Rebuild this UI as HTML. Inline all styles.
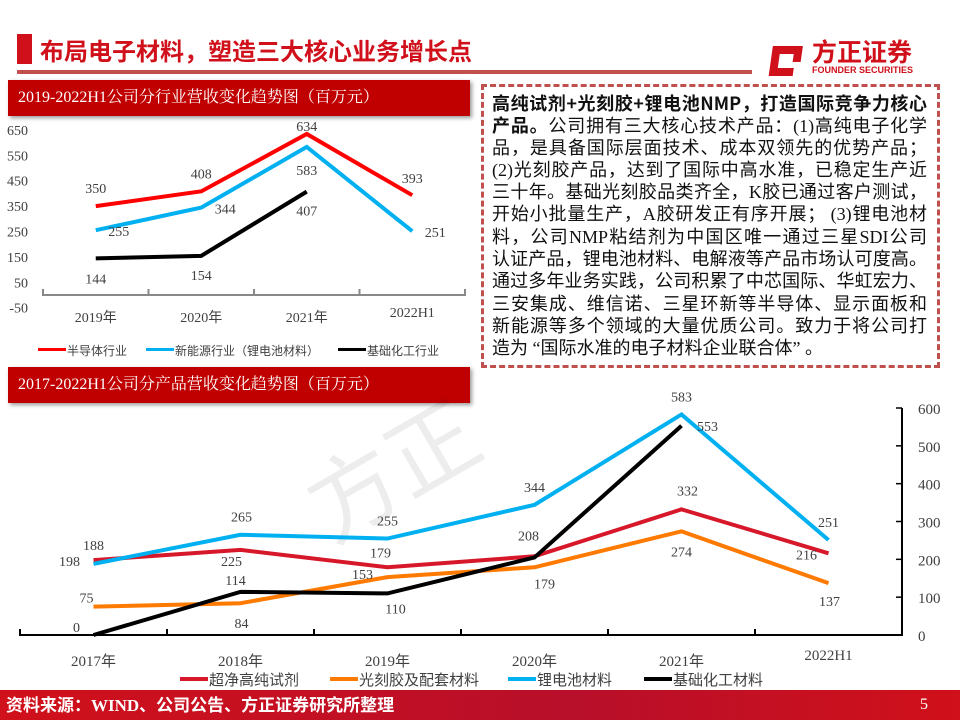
<!DOCTYPE html>
<html><head><meta charset="utf-8">
<style>
body{margin:0;width:960px;height:720px;overflow:hidden;background:#fff;font-family:"Liberation Serif","Noto Serif CJK SC",serif;position:relative}
.abs{position:absolute}
.hdr{position:absolute;left:8px;width:462px;height:36px;background:#c00000;color:#fff;font-size:16px;line-height:36px;padding-left:10px;box-sizing:border-box;box-shadow:2px 2px 4px #999;font-family:"Liberation Serif","Noto Serif CJK SC",serif}
#txt{position:absolute;left:481px;top:84px;width:459px;height:284px;border:3px dashed #c0504d;box-sizing:border-box;padding:5px 10px 0 8px;font-size:18px;line-height:22.3px;color:#111;font-family:"Liberation Serif","Noto Sans CJK SC",sans-serif}
#txt div{text-align:justify;text-align-last:justify;white-space:nowrap;height:22.3px;overflow:visible}
#txt div.last{text-align-last:left}
svg text{font-family:"Liberation Serif","Noto Sans CJK SC",serif}
</style></head><body>
<div class="abs" style="left:17px;top:34px;width:15px;height:30px;background:#d0101a"></div>
<div class="abs" style="left:40px;top:33px;font-size:24px;font-weight:bold;color:#d0101a;font-family:'Noto Sans CJK SC',sans-serif;line-height:34px">布局电子材料，塑造三大核心业务增长点</div>
<div class="abs" style="left:17px;top:70px;width:735px;height:4px;background:#c0504d"></div>
<div class="abs" style="left:768px;top:38px;width:160px;height:42px">
 <svg width="40" height="40" style="position:absolute;left:0;top:0"><path d="M6 8 H36 V24 H28 V16 H14 V30 H30 V38 H6 Z" fill="#d0101a" transform="skewX(-8)"/></svg>
 <div style="position:absolute;left:44px;top:-2px;font-size:25px;font-weight:bold;color:#d0101a;font-family:'Noto Sans CJK SC',sans-serif;line-height:30px">方正证券</div>
 <div style="position:absolute;left:44px;top:27px;font-size:9px;font-weight:bold;color:#d0101a;font-family:'Liberation Sans',sans-serif">FOUNDER SECURITIES</div>
</div>
<div class="hdr" style="top:80px">2019-2022H1公司分行业营收变化趋势图（百万元）</div>
<div class="hdr" style="top:367px">2017-2022H1公司分产品营收变化趋势图（百万元）</div>
<div id="txt">
<div><b style="font-family:'Noto Sans CJK SC',sans-serif">高纯试剂+光刻胶+锂电池NMP，打造国际竞争力核心</b></div>
<div><b style="font-family:'Noto Sans CJK SC',sans-serif">产品。</b>公司拥有三大核心技术产品：(1)高纯电子化学</div>
<div>品，是具备国际层面技术、成本双领先的优势产品；</div>
<div>(2)光刻胶产品，达到了国际中高水准，已稳定生产近</div>
<div>三十年。基础光刻胶品类齐全，K胶已通过客户测试，</div>
<div>开始小批量生产，A胶研发正有序开展； (3)锂电池材</div>
<div>料，公司NMP粘结剂为中国区唯一通过三星SDI公司</div>
<div>认证产品，锂电池材料、电解液等产品市场认可度高。</div>
<div>通过多年业务实践，公司积累了中芯国际、华虹宏力、</div>
<div>三安集成、维信诺、三星环新等半导体、显示面板和</div>
<div>新能源等多个领域的大量优质公司。致力于将公司打</div>
<div class="last">造为 “国际水准的电子材料企业联合体” 。</div>
</div>
<div class="abs" style="left:300px;top:400px;font-size:90px;color:rgba(0,0,0,0.07);transform:rotate(-30deg);font-family:'Noto Sans CJK SC',sans-serif">方正</div>
<svg id="c1" class="abs" style="left:0;top:118px" width="480" height="248"></svg>
<svg id="c2" class="abs" style="left:0;top:380px" width="960" height="310"></svg>
<div class="abs" style="left:0;top:690px;width:960px;height:30px;background:linear-gradient(90deg,#d0101a,#b80f2a 60%,#d0101a)"></div>
<div class="abs" style="left:6px;top:694px;color:#fff;font-size:17px;font-weight:bold;font-family:'Liberation Serif','Noto Sans CJK SC',serif;line-height:24px">资料来源：WIND、公司公告、方正证券研究所整理</div>
<div class="abs" style="left:920px;top:696px;color:#fff;font-size:16px">5</div>
<script>
// ---------- Chart 1 data ----------
const c1Cats=["2019年","2020年","2021年","2022H1"];
const c1Semi=[350,408,634,393];
const c1NewEnergy=[255,344,583,251];
const c1Chem=[144,154,407];
const c1Ticks=[650,550,450,350,250,150,50,-50];
const c1Names=["半导体行业","新能源行业（锂电池材料）","基础化工行业"];
// ---------- Chart 2 data ----------
const c2Cats=["2017年","2018年","2019年","2020年","2021年","2022H1"];
const c2Ultra=[198,225,179,208,332,216];
const c2Photo=[75,84,153,179,274,137];
const c2Battery=[188,265,255,344,583,251];
const c2Chem=[0,114,110,205,553];
const c2Ticks=[0,100,200,300,400,500,600];
const c2Names=["超净高纯试剂","光刻胶及配套材料","锂电池材料","基础化工材料"];

const NS="http://www.w3.org/2000/svg";
function mk(svg,tag,attrs,txt){const e=document.createElementNS(NS,tag);for(const k in attrs)e.setAttribute(k,attrs[k]);if(txt!==undefined)e.textContent=txt;svg.appendChild(e);return e;}

// Chart 1 (svg top = 118)
(function(){
 const s=document.getElementById('c1');
 const y=v=>295-118-(v)*25.4/100;
 const x=i=>43+(i+0.5)*(422/4);
 c1Ticks.forEach(t=>{const e=mk(s,'text',{x:28,y:y(t)+5,'text-anchor':'end','font-size':14,fill:'#404040'},t);
  });
 const ax=mk(s,'path',{d:`M43 ${y(0)-6} V${y(0)} H465 V${y(0)-6}`+[1,2,3].map(i=>` M${43+i*105.5} ${y(0)} V${y(0)-6}`).join(''),stroke:'#888',fill:'none','stroke-width':2});
 
 c1Cats.forEach((c,i)=>{const e=mk(s,'text',{x:x(i),y:i==3?199:204,'text-anchor':'middle','font-size':14,fill:'#404040'},c);
  });
 const series=[[c1Semi,'#ff0000',[[0,-18],[0,-18],[0,-8],[0,-17]]],[c1NewEnergy,'#00b0f0',[[23,1],[24,1],[0,23],[23,1]]],[c1Chem,'#000',[[0,20],[0,19],[0,19]]]];
 series.forEach(([d,col,off],si)=>{
  const p=mk(s,'polyline',{points:d.map((v,i)=>x(i)+','+y(v)).join(' '),fill:'none',stroke:col,'stroke-width':4});
  
  d.forEach((v,i)=>{const t=mk(s,'text',{x:x(i)+off[i][0],y:y(v)+off[i][1]+5,'text-anchor':'middle','font-size':14,fill:'#404040'},v);
   });
 });
 const lx=[38,146,338],cols=['#ff0000','#00b0f0','#000'];
 c1Names.forEach((n,i)=>{const g=mk(s,'g',{});
  mk(g,'rect',{x:lx[i],y:230,width:28,height:3,fill:cols[i]});
  mk(g,'text',{x:lx[i]+29,y:237,'font-size':12,fill:'#404040'},n);});
})();

// Chart 2 (svg top = 380)
(function(){
 const s=document.getElementById('c2');
 const y=v=>635-380-v*227/600;
 const x=i=>20+(i+0.5)*147;
 c2Ticks.forEach(t=>{const e=mk(s,'text',{x:918,y:y(t)+6,'font-size':15,fill:'#404040'},t);
  
  mk(s,'line',{x1:896,x2:902,y1:y(t),y2:y(t),stroke:'#000','stroke-width':1.5});});
 const ax=mk(s,'path',{d:`M902 ${y(600)} V${y(0)} H20 V${y(0)-6}`+[1,2,3,4,5].map(i=>` M${20+i*147} ${y(0)} V${y(0)-6}`).join(''),stroke:'#000',fill:'none','stroke-width':2});
 
 c2Cats.forEach((c,i)=>{const e=mk(s,'text',{x:x(i),y:i==5?280:286,'text-anchor':'middle','font-size':15,fill:'#404040'},c);
  });
 const series=[
  [c2Ultra,'#d7182a',[[-24,1],[-9,11],[-7,-15],[-6,-21],[6,-19],[-22,1]]],
  [c2Photo,'#ff7a00',[[-7,-9],[1,20],[-25,-3],[10,16],[0,20],[1,18]]],
  [c2Battery,'#00b0f0',[[0,-19],[1,-18],[0,-18],[0,-18],[0,-18],[0,-18]]],
  [c2Chem,'#000',[[-17,-8],[-5,-12],[8,15],[0,0],[26,0]]]];
 series.forEach(([d,col,off],si)=>{
  const p=mk(s,'polyline',{points:d.map((v,i)=>x(i)+','+y(v)).join(' '),fill:'none',stroke:col,'stroke-width':4});
  
  d.forEach((v,i)=>{if(si==3&&i==3)return;const t=mk(s,'text',{x:x(i)+off[i][0],y:y(v)+off[i][1]+5,'text-anchor':'middle','font-size':14,fill:'#404040'},v);
   });
 });
 const lx=[180,330,508,644],cols=['#d7182a','#ff7a00','#00b0f0','#000'];
 c2Names.forEach((n,i)=>{const g=mk(s,'g',{});
  mk(g,'rect',{x:lx[i],y:297,width:28,height:4,fill:cols[i]});
  mk(g,'text',{x:lx[i]+29,y:305,'font-size':15,fill:'#404040'},n);});
})();
</script>
</body></html>
